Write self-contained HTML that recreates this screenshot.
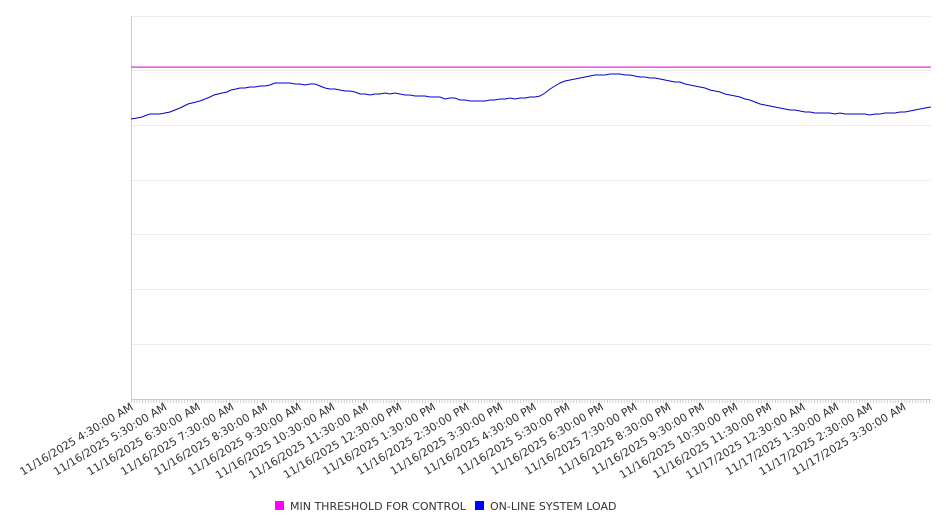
<!DOCTYPE html>
<html><head><meta charset="utf-8"><style>
body{margin:0;background:#fff;}
svg{display:block;font-family:"DejaVu Sans","Liberation Sans",sans-serif;}
</style></head><body>
<svg width="946" height="526" viewBox="0 0 946 526">
<defs>
<pattern id="tk" x="131" y="0" width="2.8" height="4" patternUnits="userSpaceOnUse">
<rect x="0" y="0" width="0.7" height="4" fill="#bbb"/>
</pattern>
</defs>
<g stroke="#ececec" stroke-width="1">
<line x1="131" y1="16.5" x2="931" y2="16.5"/>
<line x1="131" y1="70.5" x2="931" y2="70.5"/>
<line x1="131" y1="125.5" x2="931" y2="125.5"/>
<line x1="131" y1="180.5" x2="931" y2="180.5"/>
<line x1="131" y1="234.5" x2="931" y2="234.5"/>
<line x1="131" y1="289.5" x2="931" y2="289.5"/>
<line x1="131" y1="344.5" x2="931" y2="344.5"/>
</g>
<line x1="131.5" y1="16" x2="131.5" y2="399" stroke="#ccc"/>
<line x1="131" y1="399.5" x2="931" y2="399.5" stroke="#ccc"/>
<rect x="131" y="399" width="800" height="4" fill="url(#tk)"/>
<rect x="131" y="66.5" width="800" height="1.2" fill="#dd22dd"/>
<polyline fill="none" stroke="#0000c8" stroke-width="1" points="131,119 137,118 142,117 147,115 150,114 155,114 160,114 165,113 170,112 175,110 180,108 184,106 188,104 192,103 196,102 200,101 205,99 210,97 214,95 218,94 222,93 227,92 231,90 236,89 240,88 245,88 250,87 255,87 260,86 265,86 270,85 275,83 280,83 285,83 290,83 295,84 300,84 305,85 310,84 315,84 320,86 325,88 330,89 335,89 340,90 345,91 350,91 355,92 360,94 365,94 370,95 375,94 380,94 385,93 390,94 395,93 400,94 405,95 410,95 415,96 420,96 425,96 430,97 435,97 440,97 445,99 450,98 455,98 460,100 465,100 470,101 475,101 480,101 485,101 490,100 495,100 500,99 505,99 510,98 515,99 520,98 525,98 530,97 535,97 540,96 545,93 550,89 555,86 560,83 565,81 570,80 575,79 580,78 585,77 590,76 595,75 600,75 605,75 610,74 615,74 620,74 625,75 630,75 635,76 640,77 645,77 650,78 655,78 660,79 665,80 670,81 675,82 680,82 685,84 690,85 695,86 700,87 705,88 710,90 715,91 720,92 725,94 730,95 735,96 740,97 745,99 750,100 755,102 760,104 765,105 770,106 775,107 780,108 785,109 790,110 795,110 800,111 805,112 810,112 815,113 820,113 825,113 830,113 835,114 840,113 845,114 850,114 855,114 860,114 865,114 870,115 875,114 880,114 885,113 890,113 895,113 900,112 905,112 910,111 915,110 920,109 925,108 931,107"/>
<g font-size="11" fill="#333" text-anchor="end">
<text transform="translate(134,409) rotate(-31)">11/16/2025 4:30:00 AM</text>
<text transform="translate(167.6,409) rotate(-31)">11/16/2025 5:30:00 AM</text>
<text transform="translate(201.2,409) rotate(-31)">11/16/2025 6:30:00 AM</text>
<text transform="translate(234.8,409) rotate(-31)">11/16/2025 7:30:00 AM</text>
<text transform="translate(268.4,409) rotate(-31)">11/16/2025 8:30:00 AM</text>
<text transform="translate(302,409) rotate(-31)">11/16/2025 9:30:00 AM</text>
<text transform="translate(335.6,409) rotate(-31)">11/16/2025 10:30:00 AM</text>
<text transform="translate(369.2,409) rotate(-31)">11/16/2025 11:30:00 AM</text>
<text transform="translate(402.8,409) rotate(-31)">11/16/2025 12:30:00 PM</text>
<text transform="translate(436.4,409) rotate(-31)">11/16/2025 1:30:00 PM</text>
<text transform="translate(470,409) rotate(-31)">11/16/2025 2:30:00 PM</text>
<text transform="translate(503.6,409) rotate(-31)">11/16/2025 3:30:00 PM</text>
<text transform="translate(537.2,409) rotate(-31)">11/16/2025 4:30:00 PM</text>
<text transform="translate(570.8,409) rotate(-31)">11/16/2025 5:30:00 PM</text>
<text transform="translate(604.4,409) rotate(-31)">11/16/2025 6:30:00 PM</text>
<text transform="translate(638,409) rotate(-31)">11/16/2025 7:30:00 PM</text>
<text transform="translate(671.6,409) rotate(-31)">11/16/2025 8:30:00 PM</text>
<text transform="translate(705.2,409) rotate(-31)">11/16/2025 9:30:00 PM</text>
<text transform="translate(738.8,409) rotate(-31)">11/16/2025 10:30:00 PM</text>
<text transform="translate(772.4,409) rotate(-31)">11/16/2025 11:30:00 PM</text>
<text transform="translate(806,409) rotate(-31)">11/17/2025 12:30:00 AM</text>
<text transform="translate(839.6,409) rotate(-31)">11/17/2025 1:30:00 AM</text>
<text transform="translate(873.2,409) rotate(-31)">11/17/2025 2:30:00 AM</text>
<text transform="translate(906.8,409) rotate(-31)">11/17/2025 3:30:00 AM</text>
</g>
<rect x="275" y="501" width="9" height="9" fill="#ff00ff"/>
<text x="290" y="510" font-size="11" fill="#333">MIN THRESHOLD FOR CONTROL</text>
<rect x="475" y="501" width="9" height="9" fill="#0000ff"/>
<text x="490" y="510" font-size="11" fill="#333">ON-LINE SYSTEM LOAD</text>
</svg>
</body></html>
